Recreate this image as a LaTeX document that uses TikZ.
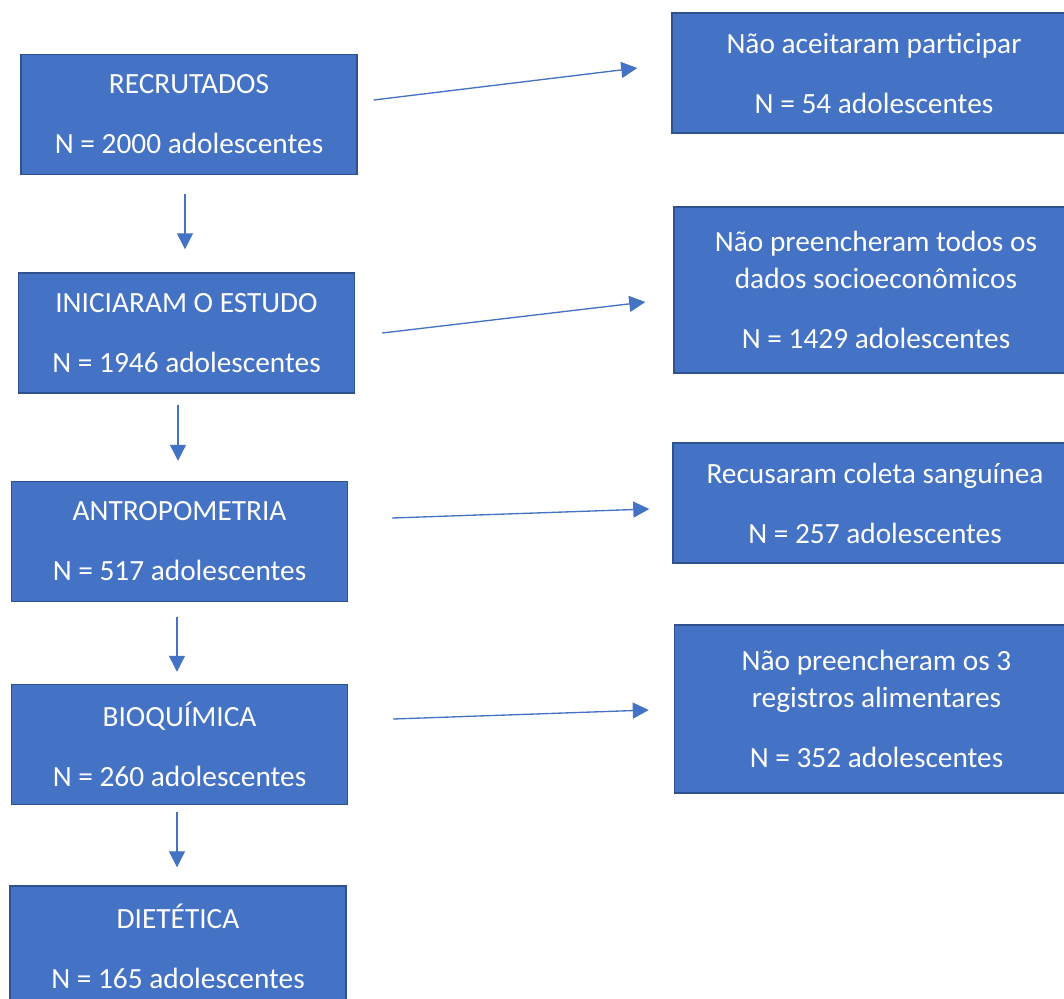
\documentclass[tikz,border=0pt]{standalone}
\usepackage{fontspec}
\setmainfont{Carlito}
\usetikzlibrary{arrows.meta}
\definecolor{boxblue}{HTML}{4472C4}
\definecolor{boxedge}{HTML}{2F528F}
\begin{document}
\begin{tikzpicture}[node distance=2cm, auto,
            block/.style={rectangle, draw=boxedge, fill=boxblue, line width=1.1pt, text=white,
                align=center, minimum width=252pt, minimum height=90pt, inner sep=0pt,
                font=\fontsize{22}{27.75}\selectfont},
            wide/.style={block, minimum width=303pt},
            arrow/.style={-{Triangle[length=12pt, width=12pt]}, draw=boxblue, line width=1pt}]

        \useasboundingbox (-141.75pt,85.875pt) rectangle ++(798pt,-749.25pt);

        \node[block] (rec) at (0,0) {RECRUTADOS\\[17.25pt]N = 2000 adolescentes};
        \node[block, below of=rec, node distance=163.875pt, xshift=-1.875pt] (ini) {INICIARAM O ESTUDO\\[17.25pt]N = 1946 adolescentes};
        \node[block, below of=ini, node distance=156.375pt, xshift=-5.25pt] (antro) {ANTROPOMETRIA\\[17.25pt]N = 517 adolescentes};
        \node[block, below of=antro, node distance=152.25pt] (bioq) {BIOQUÍMICA\\[17.25pt]N = 260 adolescentes};
        \node[block, below of=bioq, node distance=151.125pt, xshift=-1.125pt] (diet) {DIETÉTICA\\[17.25pt]N = 165 adolescentes};

        \node[wide, right of=rec, node distance=513.75pt, yshift=31.125pt] (naoac) {Não aceitaram participar\\[17.25pt]N = 54 adolescentes};
        \node[wide, minimum height=124.5pt, right of=ini, node distance=517.125pt, yshift=32.25pt] (naopre) {Não preencheram todos os\\dados socioeconômicos\\[17.25pt]N = 1429 adolescentes};
        \node[wide, right of=antro, node distance=521.625pt, yshift=28.875pt] (recus) {Recusaram coleta sanguínea\\[17.25pt]N = 257 adolescentes};
        \node[wide, minimum height=126pt, right of=bioq, node distance=522.75pt, yshift=26.625pt] (naoreg) {Não preencheram os 3\\registros alimentares\\[17.25pt]N = 352 adolescentes};

        \draw[arrow] ([xshift=-3pt, yshift=-14.25pt]rec.south) -- ([xshift=-1.125pt, yshift=17.25pt]ini.north);
        \draw[arrow] ([xshift=-6.375pt, yshift=-8.25pt]ini.south) -- ([xshift=-1.125pt, yshift=15pt]antro.north);
        \draw[arrow] ([xshift=-1.875pt, yshift=-11.25pt]antro.south) -- ([xshift=-1.875pt, yshift=9pt]bioq.north);
        \draw[arrow] ([xshift=-1.875pt, yshift=-5.25pt]bioq.south) -- ([xshift=-0.75pt, yshift=13.5pt]diet.north);

        \draw[arrow] ([xshift=12pt, yshift=10.875pt]rec.east) -- ([xshift=-25.5pt, yshift=3.75pt]naoac.west);
        \draw[arrow] ([xshift=20.25pt]ini.east) -- ([xshift=-21pt, yshift=-9pt]naopre.west);
        \draw[arrow] ([xshift=33pt, yshift=17.625pt]antro.east) -- ([xshift=-17.25pt, yshift=-4.5pt]recus.west);
        \draw[arrow] ([xshift=33.75pt, yshift=19.125pt]bioq.east) -- ([xshift=-18.75pt, yshift=-0.75pt]naoreg.west);
    \end{tikzpicture}
\end{document}
